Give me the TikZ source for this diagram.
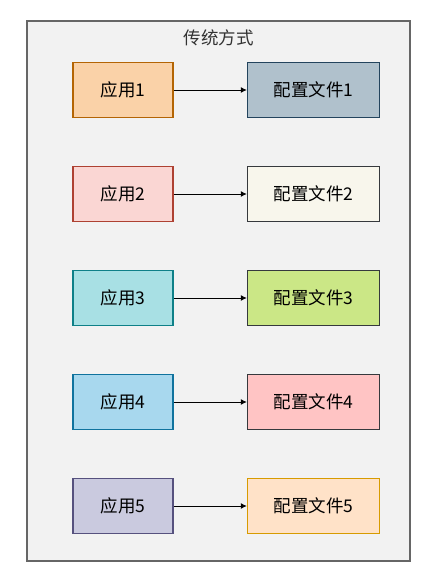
\documentclass[tikz,border=0pt]{standalone}
\usepackage{fontspec}
\setmainfont{Noto Sans CJK SC}
\usetikzlibrary{positioning,arrows.meta}
\definecolor{frameclr}{HTML}{F2F2F2}
\definecolor{framedrw}{HTML}{666666}
\definecolor{titleclr}{HTML}{333333}
\definecolor{appfillA}{HTML}{FAD2A8}
\definecolor{appdrawA}{HTML}{B46504}
\definecolor{appfillB}{HTML}{FAD6D3}
\definecolor{appdrawB}{HTML}{AE4132}
\definecolor{appfillC}{HTML}{A8E0E4}
\definecolor{appdrawC}{HTML}{0E8088}
\definecolor{appfillD}{HTML}{A8D8EE}
\definecolor{appdrawD}{HTML}{10739E}
\definecolor{appfillE}{HTML}{CACADF}
\definecolor{appdrawE}{HTML}{56517E}
\definecolor{cfgfillA}{HTML}{B0C1CC}
\definecolor{cfgdrawA}{HTML}{23445D}
\definecolor{cfgfillB}{HTML}{F8F6EC}
\definecolor{cfgdrawB}{HTML}{36393D}
\definecolor{cfgfillC}{HTML}{CBE786}
\definecolor{cfgdrawC}{HTML}{36393D}
\definecolor{cfgfillD}{HTML}{FFC4C4}
\definecolor{cfgdrawD}{HTML}{36393D}
\definecolor{cfgfillE}{HTML}{FFE2C8}
\definecolor{cfgdrawE}{HTML}{D79B00}
\tikzset{ %
  ,>={Latex[length=6pt,width=6pt]}
  ,every node/.style={font=\fontsize{17.5pt}{21pt}\selectfont}
  ,frame/.style={draw=framedrw, fill=frameclr, line width=1.5pt, minimum width=383pt, minimum height=540pt, inner sep=0}
  ,app/.style={draw, line width=1.5pt, minimum width=100pt, minimum height=55pt, inner sep=0, node distance=47.5pt}
  ,cfg/.style={draw, line width=1.5pt, minimum width=132pt, minimum height=55pt, inner sep=0, node distance=73pt}
  ,link/.style={->, line width=0.8pt}
}

\begin{document}
\begin{tikzpicture}[x=1pt,y=1pt]
      \useasboundingbox (0,0) rectangle (439,-584);
      \node[frame] (F) at (218.5,-291) {};
      \node[text=titleclr, below=6pt of F.north] (T) {传统方式};
      \draw 
      node[app, fill=appfillA, draw=appdrawA] (A1) at (123,-90) {应用1} 
      node[app, fill=appfillB, draw=appdrawB, below=of A1] (A2) {应用2} 
      node[app, fill=appfillC, draw=appdrawC, below=of A2] (A3) {应用3} 
      node[app, fill=appfillD, draw=appdrawD, below=of A3] (A4) {应用4} 
      node[app, fill=appfillE, draw=appdrawE, below=of A4] (A5) {应用5} 
      node[cfg, fill=cfgfillA, draw=cfgdrawA, right=of A1] (C1) {配置文件1} 
      node[cfg, fill=cfgfillB, draw=cfgdrawB, right=of A2] (C2) {配置文件2} 
      node[cfg, fill=cfgfillC, draw=cfgdrawC, right=of A3] (C3) {配置文件3} 
      node[cfg, fill=cfgfillD, draw=cfgdrawD, right=of A4] (C4) {配置文件4} 
      node[cfg, fill=cfgfillE, draw=cfgdrawE, right=of A5] (C5) {配置文件5};
      \draw [link] (A1) edge (C1) (A2) edge (C2) (A3) edge (C3) (A4) edge (C4) (A5) edge (C5);
    \end{tikzpicture}
\end{document}
